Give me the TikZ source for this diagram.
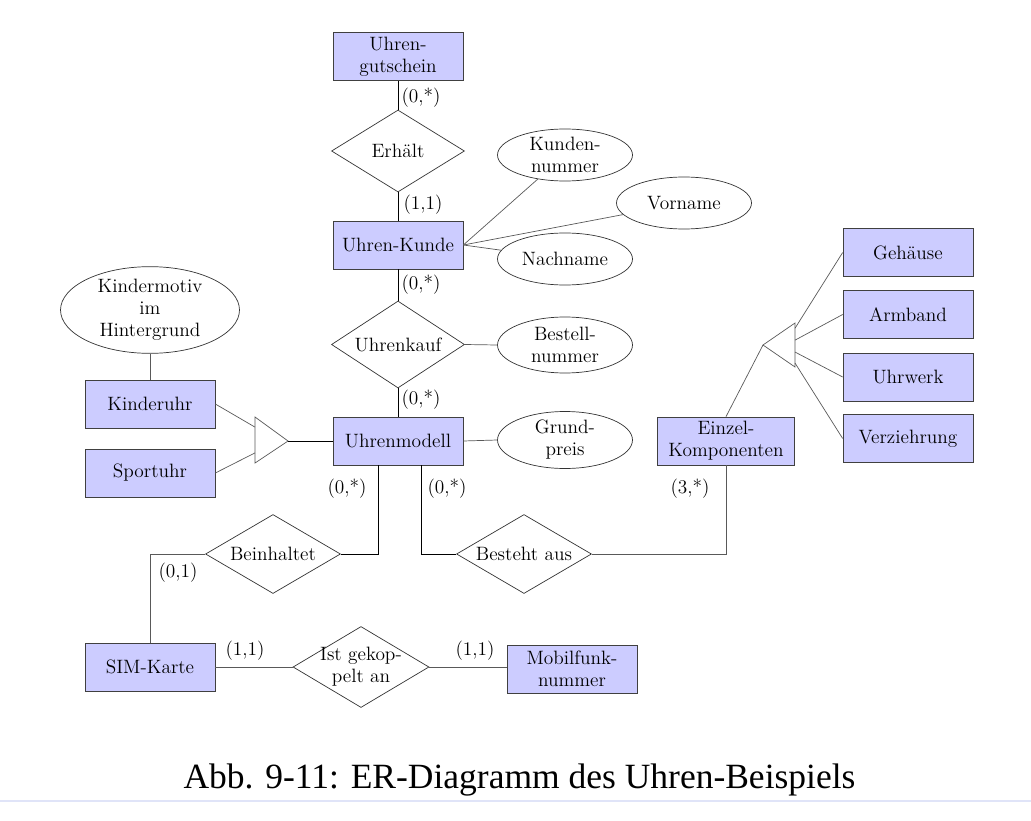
\documentclass[tikz,border=0pt]{standalone}
\usepackage{fontspec}
\newfontfamily\capfont{Liberation Serif}
\usetikzlibrary{calc,shapes.geometric}
\definecolor{entityblue}{RGB}{204,204,255}
\definecolor{ruleblue}{RGB}{224,228,248}
\newcommand{\erfont}{\fontsize{11}{12.5}\selectfont}
\tikzset{
	entity/.style={draw=black!75, fill=entityblue, minimum width=2.6cm, minimum height=0.96cm, inner sep=1pt, align=center, font=\erfont},
	relation/.style={draw=black!80, diamond, minimum width=2.66cm, minimum height=1.64cm, inner sep=0pt,
		label={[font=\erfont, align=center, inner sep=0pt]center:#1}},
	attrib/.style={draw=black!80, ellipse, minimum width=2.7cm, minimum height=1.04cm, inner sep=0pt, align=center, font=\erfont},
	card/.style={font=\erfont, inner sep=1pt},
	link/.style={draw=black, line width=0.5pt},
	thinlink/.style={draw=black!65, line width=0.4pt},
}

\begin{document}
\begin{tikzpicture}[x=0.02cm, y=-0.02cm]
			%%%%% START %%%%%
			\useasboundingbox (0, 0) rectangle (1031, 821);
			
			% entities
			\node[entity] (gutschein) at (398, 56.5) {Uhren-\\gutschein};
			\node[entity] (kunde) at (398, 245) {Uhren-Kunde};
			\node[entity] (modell) at (398, 441) {Uhrenmodell};
			\node[entity] (kinderuhr) at (150, 404) {Kinderuhr};
			\node[entity] (sportuhr) at (150, 473) {Sportuhr};
			\node[entity, minimum width=2.74cm] (komp) at (726, 441) {Einzel-\\Komponenten};
			\node[entity] (gehaeuse) at (908, 252.5) {Gehäuse};
			\node[entity] (armband) at (908, 314.5) {Armband};
			\node[entity] (uhrwerk) at (908, 377) {Uhrwerk};
			\node[entity] (verz) at (908, 438.5) {Verziehrung};
			\node[entity] (sim) at (150, 667) {SIM-Karte};
			\node[entity] (mobil) at (572, 669) {Mobilfunk-\\nummer};
			
			% relations
			\node[relation={Erhält}] (erhaelt) at (398, 151) {};
			\node[relation={Uhrenkauf}, minimum height=1.74cm] (kauf) at (398, 344.5) {};
			\node[relation={Beinhaltet}, minimum width=2.7cm, minimum height=1.58cm] (beinh) at (273, 554) {};
			\node[relation={Besteht aus}, minimum width=2.7cm, minimum height=1.58cm] (besteht) at (524, 554) {};
			\node[relation={Ist gekop-\\pelt an}, minimum width=2.72cm, minimum height=1.62cm] (gekop) at (361, 667) {};
			
			% attributes
			\node[attrib] (kdnr) at (565, 155) {Kunden-\\nummer};
			\node[attrib] (vorname) at (684, 203) {Vorname};
			\node[attrib] (nachname) at (565, 259) {Nachname};
			\node[attrib, minimum height=1.12cm] (bestnr) at (565, 345) {Bestell-\\nummer};
			\node[attrib, minimum height=1.14cm] (preis) at (565, 440) {Grund-\\preis};
			\node[attrib, minimum width=3.58cm, minimum height=1.4cm] (motiv) at (150, 310) {Kindermotiv\\im\\Hintergrund};
			
			% is-a triangles
			\coordinate (isaL-top) at (255, 417);
			\coordinate (isaL-bot) at (255, 463);
			\coordinate (isaL-tip) at (288, 441);
			\draw[thinlink] (isaL-top) -- (isaL-tip) -- (isaL-bot) -- cycle;
			\coordinate (isaR-top) at (795, 323);
			\coordinate (isaR-bot) at (795, 367);
			\coordinate (isaR-tip) at (763, 345);
			\draw[thinlink] (isaR-top) -- (isaR-tip) -- (isaR-bot) -- cycle;
			
			% connectors
			\draw[link] (gutschein) -- (erhaelt);
			\draw[link] (erhaelt) -- (kunde);
			\draw[link] (kunde) -- (kauf);
			\draw[link] (kauf) -- (modell);
			
			\draw[thinlink] (kunde.east) -- (kdnr);
			\draw[thinlink] (kunde.east) -- (vorname);
			\draw[thinlink] (kunde.east) -- (nachname);
			\draw[thinlink] (kauf.east) -- (bestnr.west);
			\draw[thinlink] (modell.east) -- (preis.west);
			\draw[thinlink] (motiv) -- (kinderuhr);
			
			\draw[thinlink] (kinderuhr.east) -- ($(isaL-top)!0.22!(isaL-bot)$);
			\draw[thinlink] (sportuhr.east) -- ($(isaL-top)!0.78!(isaL-bot)$);
			\draw[link] (isaL-tip) -- (modell.west);
			
			\draw[thinlink] (isaR-tip) -- (komp.north);
			\draw[thinlink] ($(isaR-top)!0.12!(isaR-bot)$) -- (gehaeuse.west);
			\draw[thinlink] ($(isaR-top)!0.39!(isaR-bot)$) -- (armband.west);
			\draw[thinlink] ($(isaR-top)!0.66!(isaR-bot)$) -- (uhrwerk.west);
			\draw[thinlink] ($(isaR-top)!0.91!(isaR-bot)$) -- (verz.west);
			
			\draw[link] ([xshift=-0.4cm]modell.south) |- (beinh.east);
			\draw[link] ([xshift=0.46cm]modell.south) |- (besteht.west);
			\draw[thinlink] (besteht.east) -| (komp.south);
			\draw[thinlink] (beinh.west) -| (sim.north);
			\draw[thinlink] (sim.east) -- (gekop.west);
			\draw[thinlink] (gekop.east) -- (gekop.east -| mobil.west);
			
			% cardinalities
			\node[card] (c-gut) at (421, 98) {(0,*)};
			\node[card] (c-erh) at (423, 205) {(1,1)};
			\node[card] (c-kun) at (421, 285) {(0,*)};
			\node[card] (c-kauf) at (421, 400) {(0,*)};
			\node[card] (c-mod1) at (347, 489) {(0,*)};
			\node[card] (c-mod2) at (447, 489) {(0,*)};
			\node[card] (c-komp) at (690, 489) {(3,*)};
			\node[card] (c-sim1) at (178, 573) {(0,1)};
			\node[card] (c-sim2) at (245, 651) {(1,1)};
			\node[card] (c-mob) at (475, 651) {(1,1)};
			
			% caption
			\node[anchor=base, inner sep=0pt, font=\capfont\fontsize{20.2}{24}\selectfont] (caption) at (519.5, 788) {Abb. 9-11: ER-Diagramm des Uhren-Beispiels};
			\draw[ruleblue, line width=0.6pt] (0, 801) -- (1031, 801);
			%%%%% END %%%%%
		\end{tikzpicture}
\end{document}
